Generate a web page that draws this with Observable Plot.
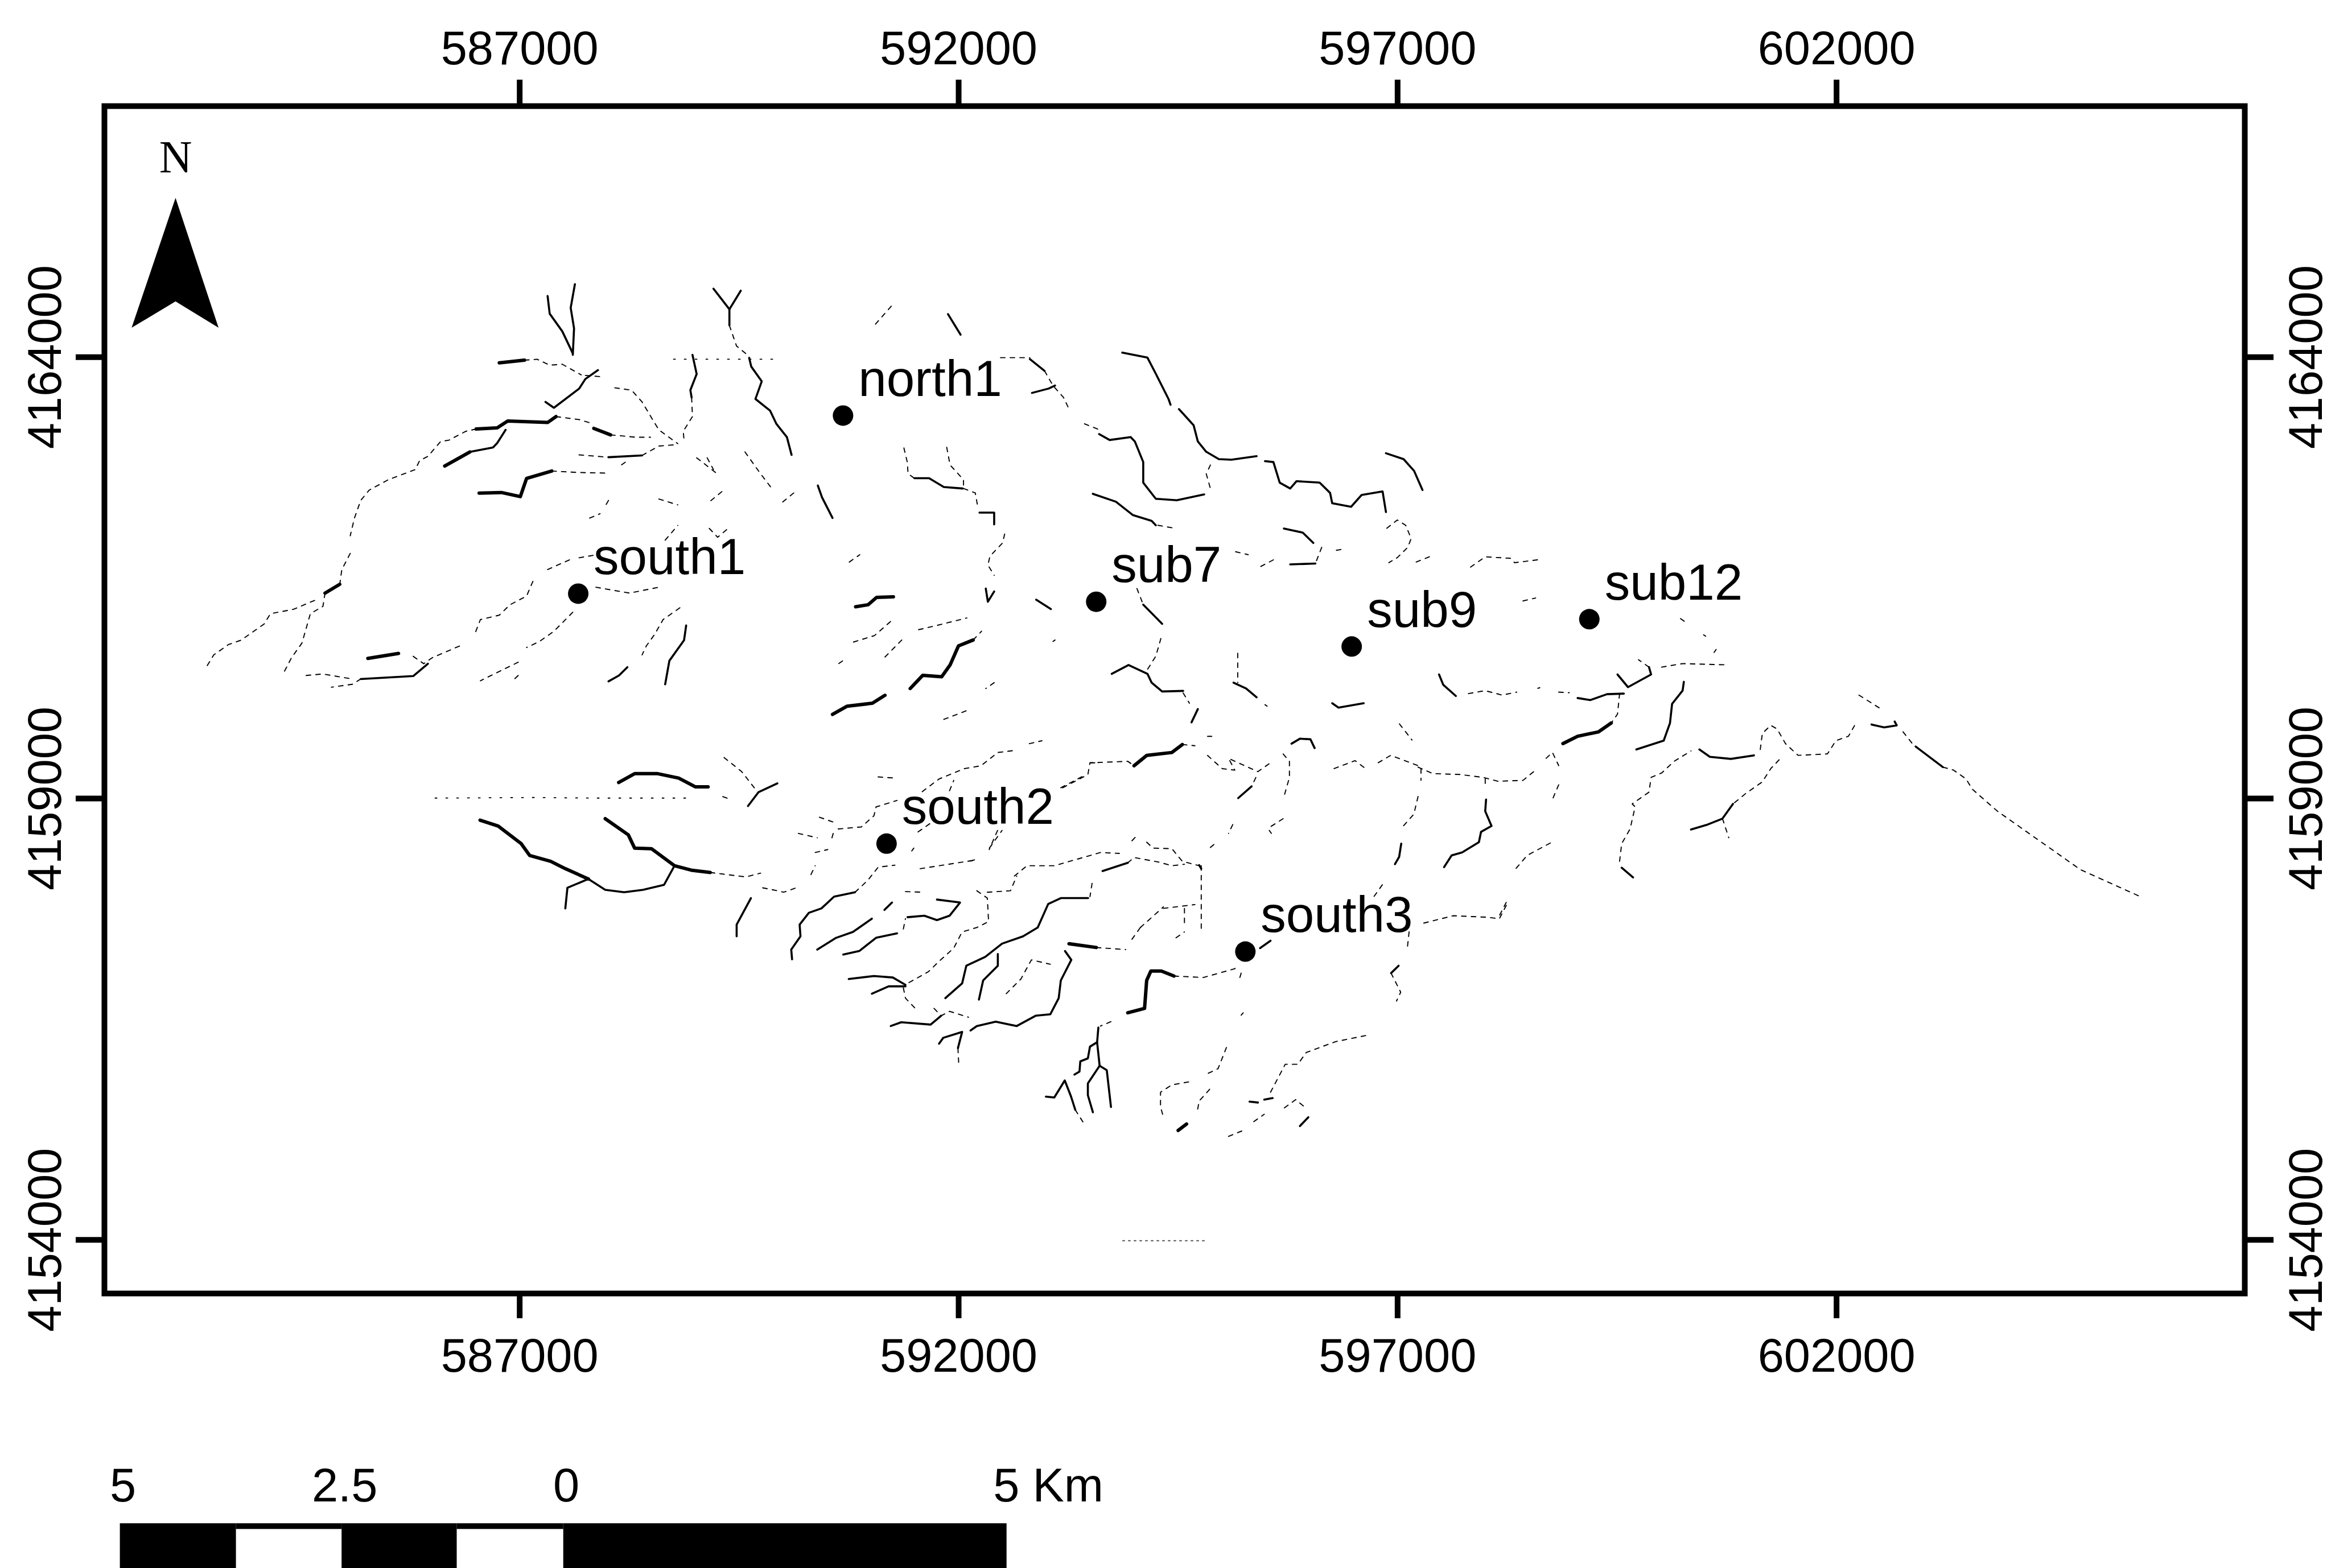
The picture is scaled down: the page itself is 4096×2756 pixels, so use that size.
<!DOCTYPE html>
<html>
<head>
<meta charset="utf-8">
<script src="https://cdn.jsdelivr.net/npm/d3@7"></script>
<script src="https://cdn.jsdelivr.net/npm/@observablehq/plot@0.6"></script>
<style>
html,body{margin:0;padding:0;background:#fff;overflow:hidden}
svg{display:block}
</style>
</head>
<body>
<div id="chart"></div>
<script>
// Tick values (UTM metres)
const eastTicks = [587000, 592000, 597000, 602000];
const northTicks = [4154000, 4159000, 4164000];

// Gauging sites (UTM metres)
const siteNames = ["south1","north1","sub7","sub9","sub12","south2","south3"];
const siteEast = [587667,590683,593567,596477,599184,591179,595266];
const siteNorth = [4161321,4163338,4161229,4160722,4161032,4158489,4157266];

// Scale bar stops (km) and labels
const barStops = [-5,-3.69,-2.5,-1.2,0,5];
const barFill = ["black","white","black","white","black"];
const barLabels = [{km:-5,t:"5"},{km:-2.5,t:"2.5"},{km:0,t:"0"}];

// Stream network digitised on grid sheets: each point is [column,row] on the sheet.
// One column is 4.783 m east, one row is 3.332 m south of the sheet's origin.
const nwHeavy = [
 [[770,337],[830,328]],[[715,562],[765,558],[790,535],[885,540],[905,520]],[[995,560],[1035,582]],
 [[700,640],[640,688]],[[722,780],[775,778],[820,792],[835,730],[895,705]],[[457,1342],[530,1325]],
 [[390,1090],[355,1120]]
];
const nwMedium = [
 [[950,70],[940,150],[948,220],[945,310]],[[885,110],[890,170],[920,230],[945,305]],
 [[1005,362],[975,392],[960,425],[900,490],[880,470]],[[1230,310],[1240,375],[1225,430],[1228,455]],
 [[1280,85],[1318,155],[1345,92]],[[1318,155],[1318,210]],
 [[1365,320],[1370,350],[1395,400],[1380,460],[1415,500],[1430,545],[1455,590],[1466,650]],
 [[785,565],[765,610],[755,625],[700,640]],[[1030,658],[1110,652]],
 [[1215,1230],[1210,1280],[1175,1350],[1165,1430]],[[1075,1372],[1055,1400],[1030,1420]],
 [[600,1360],[565,1402],[440,1412]]
];
const nwFaint = [
 [[830,328],[860,325],[890,345],[920,342],[965,378]],[[975,380],[1020,385]],
 [[1045,422],[1085,430],[1110,470],[1135,530],[1150,565],[1195,612]],
 [[1228,455],[1230,520],[1208,570],[1210,600]],[[1318,210],[1335,280],[1365,315]],
 [[1355,640],[1390,710],[1422,770]],[[1445,810],[1475,775]],
 [[905,520],[960,530],[995,545]],[[1035,582],[1095,590],[1130,590]],
 [[715,562],[690,570],[650,600],[630,605],[600,655],[580,670],[570,700],[505,735],[460,770],[440,805],[425,865],[415,925]],
 [[415,985],[395,1040],[390,1090]],
 [[355,1120],[350,1165],[320,1190],[300,1290],[275,1340],[255,1395]],
 [[330,1145],[280,1175],[225,1190],[210,1225],[155,1280],[125,1295],[90,1330],[72,1372]],
 [[960,650],[1030,658]],[[1110,652],[1150,620],[1195,615]],[[1070,675],[1055,690]],
 [[895,705],[960,710],[1025,712]],[[1240,660],[1285,710]],[[1265,660],[1280,700]],
 [[1030,805],[1020,830]],[[1150,800],[1195,820]],[[1300,775],[1270,810]],[[985,865],[1010,850]],
 [[1165,940],[1195,890]],[[1270,900],[1290,930],[1315,900]],
 [[885,1040],[940,1005]],[[960,1000],[1000,990]],
 [[850,1080],[835,1130],[795,1160],[770,1195],[725,1210],[710,1265]],
 [[1000,1100],[1080,1120],[1150,1100]],[[945,1185],[900,1250],[865,1285],[835,1305]],
 [[1200,1170],[1160,1210],[1140,1260],[1120,1300],[1110,1330]],
 [[565,1335],[590,1360]],[[675,1300],[610,1340],[590,1360]],
 [[440,1412],[420,1430],[370,1440]],[[310,1400],[350,1395],[420,1412]],
 [[815,1355],[725,1418]],[[815,1400],[800,1420]]
];
const nwDotted = [[[1185,325],[1230,325],[1340,325],[1440,325]]];

const ncHeavy = [
 [[155,1092],[185,1085],[205,1060],[245,1058]],
 [[435,1205],[400,1225],[380,1290],[360,1330],[315,1325],[285,1370]],
 [[100,1458],[135,1430],[195,1420],[225,1393]]
];
const ncMedium = [
 [[375,97],[405,167]],[[570,250],[605,290]],[[575,365],[615,350],[630,340]],
 [[735,505],[760,525],[810,515],[820,530],[840,600],[840,670],[870,725],[920,730],[985,710]],
 [[790,228],[850,245],[870,300],[900,385],[905,405]],
 [[925,420],[960,475],[970,530],[990,565],[1020,590],[1050,592],[1110,580]],
 [[1130,597],[1150,600],[1165,670],[1190,690],[1205,665],[1260,670],[1285,705],[1290,740],[1335,752],[1360,712],[1410,700],[1418,770]],
 [[1418,570],[1460,590],[1485,630],[1505,695]],[[720,708],[775,735],[815,780],[860,800],[870,815]],
 [[1175,826],[1220,840],[1245,875]],[[1250,945],[1190,948]],
 [[295,655],[330,655],[365,685],[410,690]],[[450,772],[485,772],[485,812]],
 [[465,1030],[470,1075],[485,1040]],[[65,680],[75,720],[100,790]],[[585,1068],[620,1100]],
 [[840,1085],[885,1150]],
 [[765,1320],[805,1290],[850,1320],[860,1350],[885,1380],[935,1378]],[[970,1440],[955,1485]],
 [[1055,1350],[1085,1370],[1110,1400]],[[1290,1420],[1305,1435],[1365,1420]]
];
const ncFaint = [
 [[240,70],[200,135]],[[500,245],[570,245]],[[605,290],[625,340],[650,380],[665,425]],
 [[700,470],[735,490]],[[1000,610],[990,640],[1000,690]],[[875,815],[915,825]],
 [[1420,825],[1445,797],[1465,815],[1478,860],[1470,890],[1445,925],[1425,942]],[[1490,940],[1525,920]],
 [[1265,890],[1250,945]],[[1120,955],[1160,925]],[[1060,905],[1090,915]],[[1300,900],[1320,895]],
 [[270,552],[278,600],[280,640],[295,655]],[[372,550],[380,610],[412,660],[412,690]],
 [[412,690],[440,705],[445,745]],[[510,845],[505,875],[475,920],[470,950],[485,985]],
 [[140,940],[165,915]],[[150,1212],[200,1190],[240,1140]],[[305,1170],[350,1155],[420,1130]],
 [[265,1205],[220,1270]],[[115,1285],[125,1275]],[[435,1205],[455,1175]],[[485,1350],[465,1370]],
 [[365,1475],[420,1445]],[[630,1205],[625,1210]],[[825,1030],[840,1085]],
 [[882,1200],[870,1260],[850,1305]],[[935,1385],[950,1420]],[[1065,1250],[1065,1350]],
 [[1130,1425],[1135,1430]],[[1450,1490],[1480,1545]]
];

const neHeavy = [
 [[700,890],[670,920],[620,935],[585,960]]
];
const neMedium = [
 [[290,725],[300,760],[330,798]],[[620,805],[650,812],[690,792],[730,790]],
 [[715,725],[740,768],[795,725],[790,700]],
 [[873,750],[870,780],[845,825],[840,890],[825,950],[760,980]],
 [[200,1300],[195,1345],[185,1370]],
 [[402,1150],[400,1190],[415,1240],[390,1260],[385,1295],[345,1330],[320,1340],[302,1380]],
 [[725,1382],[752,1415]],[[910,980],[935,1005],[985,1012],[1040,1000]],
 [[1320,895],[1350,905],[1380,898],[1375,885]],[[1425,970],[1490,1040]],
 [[990,1165],[965,1215],[930,1235],[890,1252]]
];
const neFaint = [
 [[365,360],[400,325],[460,330],[470,345],[525,335]],[[490,475],[520,465]],
 [[360,790],[400,780],[440,795],[475,785]],[[525,772],[530,770]],[[575,785],[600,787]],
 [[790,700],[765,675]],[[820,700],[870,688],[970,692]],[[950,640],[945,650]],[[920,590],[925,595]],[[865,535],[875,545]],
 [[720,790],[715,860],[700,890]],
 [[40,1045],[90,1018],[120,1050]],[[145,1025],[175,1000],[240,1035]],
 [[240,1040],[275,1062],[340,1065],[395,1075],[430,1088],[490,1085],[520,1050]],
 [[545,1010],[560,990],[575,1035]],[[575,1100],[560,1150]],
 [[247,1045],[247,1085]],[[240,1140],[230,1200],[205,1240]],[[400,1080],[400,1100]],
 [[555,1298],[500,1340],[470,1390]],[[155,1440],[135,1480]],[[450,1500],[430,1555]],
 [[720,1360],[725,1300],[745,1250],[757,1175],[750,1165],[790,1125],[795,1075],[820,1060],[850,1020],[890,985]],
 [[1055,980],[1060,925],[1080,898],[1095,910],[1115,960],[1145,1000],[1215,995],[1235,950],[1265,935],[1285,885]],
 [[1290,795],[1340,840]],[[1395,920],[1420,965]],
 [[1490,1040],[1515,1050],[1545,1080],[1560,1115],[1620,1190],[1818,1389],[1960,1480]],
 [[1100,1015],[1080,1045],[1060,1090],[1020,1130],[990,1165]],[[965,1215],[980,1280]]
];

const swHeavy = [
 [[97,325],[140,345],[195,405],[215,445],[265,465],[300,490],[355,525]],
 [[395,320],[450,375],[465,420],[505,422],[560,480]],[[560,480],[600,495],[645,503]],
 [[427,197],[465,167],[520,167],[570,182],[610,212],[640,212]]
];
const swMedium = [
 [[805,200],[760,230],[735,277]],
 [[560,480],[535,545],[485,562],[440,570],[395,562],[355,525]],[[355,525],[305,555],[300,625]],
 [[742,590],[708,680],[708,720]],
 [[840,798],[838,765],[860,720],[858,680],[880,640],[910,625],[940,585],[990,570]],
 [[900,765],[945,725],[985,705],[1030,660]],[[1060,630],[1078,605]],
 [[1115,655],[1155,650],[1185,665],[1215,650],[1240,605],[1185,595]],
 [[962,782],[1000,770],[1040,725],[1090,710]],
 [[1110,885],[1080,860],[1035,855],[975,865]],[[1110,890],[1070,890],[1030,915]],
 [[1205,930],[1245,880],[1255,820],[1300,790],[1340,745],[1390,720],[1425,690],[1450,610],[1480,590],[1545,590]],
 [[1330,780],[1330,820],[1295,870],[1285,935]],
 [[1490,770],[1505,800],[1480,870],[1475,930],[1455,985],[1420,990],[1375,1025],[1325,1010],[1280,1025],[1265,1040]],
 [[1075,1025],[1100,1012],[1170,1020],[1195,990]],
 [[1190,1085],[1200,1065],[1245,1045],[1235,1100]]
];
const swFaint = [
 [[678,112],[720,160],[750,215]],[[675,245],[695,255]],[[645,503],[730,518],[765,505]],
 [[905,315],[945,335]],[[950,355],[1005,348],[1035,310],[1040,280],[1090,258]],
 [[855,370],[900,385]],[[935,385],[940,360]],[[895,435],[925,425]],[[885,510],[895,480]],
 [[770,555],[805,565],[820,570],[850,555]],[[990,570],[1020,530],[1045,485],[1085,478]],
 [[1045,178],[1085,182]],
 [[1150,228],[1190,185],[1250,150],[1290,140],[1330,95],[1370,88]],[[1405,65],[1435,55]],
 [[1215,225],[1225,190]],[[1140,365],[1170,335]],[[1130,420],[1125,430]],
 [[1145,490],[1280,460]],[[1310,420],[1340,360]],[[1480,215],[1540,170]],[[1550,130],[1568,130]],
 [[1105,695],[1110,660]],[[1110,568],[1155,570]],
 [[1280,565],[1305,590],[1308,670],[1280,690],[1245,705],[1225,760],[1190,805],[1165,840],[1115,880]],
 [[1305,570],[1360,565],[1375,515]],
 [[1105,895],[1110,930],[1140,975]],[[1350,915],[1385,865],[1410,800],[1455,815]],
 [[1500,745],[1565,755]],[[1178,965],[1195,990],[1215,975],[1260,995]],
 [[1235,1100],[1237,1155]]
];
const swDotted = [[[-10,250],[230,248],[365,250],[600,250]]];

const seHeavy = [
 [[400,140],[430,105],[490,95],[515,68]],[[245,745],[310,758]],[[525,1358],[505,1380]],
 [[385,980],[425,965],[430,870],[440,838],[465,838],[495,855]]
];
const seMedium = [
 [[680,210],[648,250]],[[775,65],[795,48],[820,50],[830,80]],[[325,498],[385,470]],
 [[315,1030],[312,1080],[295,1095],[290,1135],[272,1145],[270,1180],[258,1190]],
 [[312,1080],[318,1160]],[[318,1160],[290,1220],[290,1260],[302,1318]],[[318,1160],[335,1175],[345,1300]],
 [[190,1265],[210,1268],[235,1210],[250,1265],[260,1310]],
 [[700,760],[725,735]],[[1030,820],[1012,845]],[[675,1282],[695,1285]],[[710,1275],[730,1270]],
 [[815,1335],[795,1365]],[[555,478],[560,490]]
];
const seFaint = [
 [[230,215],[290,170],[295,130],[385,125],[400,140]],[[515,68],[545,72]],[[575,40],[585,40]],
 [[575,105],[610,150],[640,155],[625,115],[695,160],[725,130]],[[690,180],[680,210]],
 [[755,100],[770,125],[770,180],[757,245]],[[755,320],[722,350]],[[722,360],[727,370]],
 [[635,340],[625,370]],[[590,408],[580,420]],[[75,360],[55,425]],[[20,460],[0,468]],
 [[115,515],[145,480],[210,480],[320,435],[365,438]],[[395,395],[405,380]],
 [[430,400],[445,420],[490,422],[515,465],[555,480]],
 [[385,470],[400,452],[460,468],[490,480],[520,475]],
 [[560,480],[560,710]],[[520,625],[520,690]],[[470,625],[545,612]],[[415,690],[470,620]],[[395,730],[415,690]],[[500,725],[520,705]],
 [[300,540],[295,585]],[[495,855],[565,860],[640,830],[648,815]],[[310,758],[380,765]],
 [[345,1010],[320,1025]],[[655,845],[650,870]],[[660,980],[655,988]],
 [[1055,705],[1050,770]],[[1012,845],[1035,910],[1025,940]],
 [[1090,675],[1160,650],[1240,655],[1270,660],[1290,605]],
 [[260,1310],[280,1355]],[[620,1098],[600,1170],[570,1190]],
 [[530,1215],[490,1225],[463,1250],[463,1300],[470,1335]],[[580,1240],[555,1280],[550,1320]],
 [[625,1400],[660,1380]],[[685,1350],[710,1325]],
 [[725,1250],[760,1155],[790,1155],[810,1115],[880,1078],[960,1055]],[[758,1303],[785,1275],[810,1305]]
];

// Short dotted trace near the southern edge (UTM metres)
const southTraceEast = [593870,594800];
const southTraceNorth = [4153990,4153990];

// North arrow outline (UTM metres)
const arrowEast = [583080,583570,583080,582580];
const arrowNorth = [4165805,4164333,4164632,4164333];

// Sheet origins (UTM metres) and grid steps (metres)
const eastStep = 4.783, northStep = 3.332;
const sheets = [
 {e:583085,n:4165059,heavy:nwHeavy,medium:nwMedium,faint:nwFaint,dotted:nwDotted},
 {e:590085,n:4164811,heavy:ncHeavy,medium:ncMedium,faint:ncFaint,dotted:[]},
 {e:596085,n:4162821,heavy:neHeavy,medium:neMedium,faint:neFaint,dotted:[]},
 {e:586085,n:4159838,heavy:swHeavy,medium:swMedium,faint:swFaint,dotted:swDotted},
 {e:592085,n:4159838,heavy:seHeavy,medium:seMedium,faint:seFaint,dotted:[]}
];
function vertices(cls){
  const out=[]; let id=0;
  for(const s of sheets) for(const line of s[cls]){
    id++;
    for(const [c,r] of line) out.push({id, e:s.e+c*eastStep, n:s.n-r*northStep});
  }
  return out;
}
const sites = siteNames.map((name,i)=>({name,e:siteEast[i],n:siteNorth[i]}));
const arrow = arrowEast.map((e,i)=>({e,n:arrowNorth[i]}));
const southTrace = southTraceEast.map((e,i)=>({e,n:southTraceNorth[i],id:"s"}));

// Scale bar georeference
const barZeroEast = 587499, barKm = 1010, barTop = 4150787, barInnerTop = 4150722, barBottom = 4150274, barLabelNorth = 4151208;
const kmE = km => barZeroEast + km*barKm;
const barSegs = barFill.map((fill,i)=>({x1:kmE(barStops[i]),x2:kmE(barStops[i+1]),fill}));

const FONT = "'Liberation Sans', Arial, sans-serif";
const AXFS = 83;
const stream = (cls, o) => Plot.line(vertices(cls), {x:"e", y:"n", z:"id", stroke:"black", strokeLinejoin:"round", strokeLinecap:"round", curve:"linear", ...o});

const chart = Plot.plot({
  width:4096, height:2756,
  marginLeft:183, marginRight:152, marginTop:186, marginBottom:483,
  style:{fontFamily:FONT, background:"white"},
  x:{domain:[582270,606650], axis:null},
  y:{domain:[4153393,4166844], axis:null},
  marks:[
    stream("faint",{strokeWidth:1.9, strokeDasharray:"8 9"}),
    stream("dotted",{strokeWidth:1.8, strokeDasharray:"3 16"}),
    Plot.line(southTrace,{x:"e",y:"n",z:"id",stroke:"#555",strokeWidth:2,strokeDasharray:"3 7"}),
    stream("medium",{strokeWidth:3.6}),
    stream("heavy",{strokeWidth:6}),
    Plot.dot(sites,{x:"e",y:"n",r:18,fill:"black",stroke:"none"}),
    Plot.text(sites,{x:"e",y:"n",text:"name",textAnchor:"start",dx:27,dy:-63,fontSize:89,fill:"black"}),
    Plot.line(arrow,{x:"e",y:"n",fill:"black",stroke:"none"}),
    Plot.text(["N"],{x:()=>583082,y:()=>4166258,text:d=>d,fontFamily:"'Liberation Serif',serif",fontSize:80,fill:"black"}),
    Plot.frame({stroke:"black",strokeWidth:10}),
    Plot.axisX({anchor:"top",ticks:eastTicks,tickFormat:d=>String(d),tickSize:47,tickPadding:27,fontSize:AXFS,strokeWidth:10,label:null}),
    Plot.axisX({anchor:"bottom",ticks:eastTicks,tickFormat:d=>String(d),tickSize:44,tickPadding:35,fontSize:AXFS,strokeWidth:10,label:null}),
    Plot.axisY({anchor:"left",ticks:northTicks,tickFormat:d=>String(d),tickSize:50,tickPadding:27,tickRotate:-90,fontSize:AXFS,strokeWidth:10,label:null}),
    Plot.axisY({anchor:"right",ticks:northTicks,tickFormat:d=>String(d),tickSize:50,tickPadding:27,tickRotate:-90,lineAnchor:"top",fontSize:AXFS,strokeWidth:10,label:null}),
    Plot.rect(barSegs,{x1:"x1",x2:"x2",y1:()=>barTop,y2:()=>barBottom,fill:()=>"black"}),
    Plot.rect(barSegs.filter(d=>d.fill==="white"),{x1:"x1",x2:"x2",y1:()=>barInnerTop,y2:()=>barBottom,fill:()=>"white"}),
    Plot.text(barLabels,{x:d=>kmE(d.km),y:()=>barLabelNorth,text:"t",fontSize:AXFS,fill:"black",textAnchor:"middle",dx:5}),
    Plot.text(["5 Km"],{x:()=>kmE(5),y:()=>barLabelNorth,text:d=>d,fontSize:AXFS,fill:"black",textAnchor:"start",dx:-24})
  ]
});
document.getElementById("chart").append(chart);
</script>
</body>
</html>
